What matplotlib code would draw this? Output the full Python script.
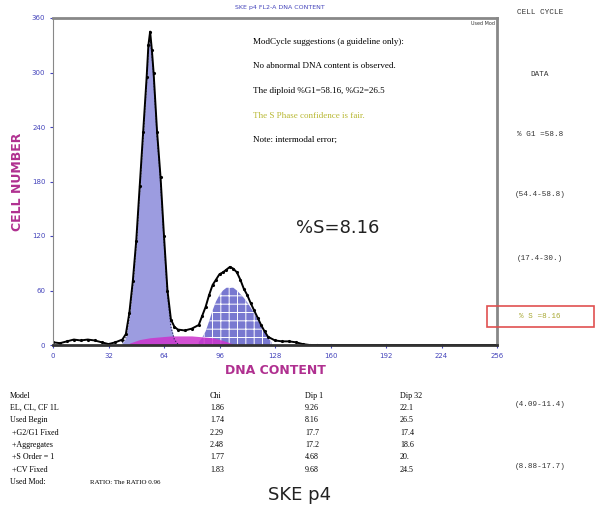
import matplotlib
matplotlib.use("Agg")
import matplotlib.pyplot as plt
import numpy as np

plt.rcParams["hatch.linewidth"] = 0.7

# DNA histogram (data)
channel = [0, 4, 8, 12, 16, 20, 24, 28, 32, 36, 40, 42, 44, 46, 48, 50, 52, 54, 55, 56, 57, 58,
           60, 62, 64, 66, 68, 70, 72, 76, 80, 84, 86, 88, 90, 92, 94, 96, 98, 100, 102, 104,
           106, 108, 110, 112, 114, 116, 118, 120, 122, 124, 128, 132, 136, 140, 144, 148,
           152, 160, 192, 224, 256]
count = [3, 2, 4, 6, 5, 6, 5, 3, 1, 3, 6, 12, 35, 70, 115, 175, 235, 295, 330, 345, 325, 300,
         235, 185, 120, 60, 28, 20, 17, 16, 18, 22, 32, 42, 55, 66, 72, 78, 80, 83, 86, 84,
         80, 72, 62, 55, 46, 38, 30, 22, 15, 9, 5, 4, 4, 3, 1, 0,
         0, 0, 0, 0, 0]

# fitted components
g1_ch = [40, 42, 44, 46, 48, 50, 52, 54, 55, 56, 57, 58, 60, 62, 64, 66, 68, 70, 72]
g1_fit = [2, 8, 30, 65, 110, 170, 230, 290, 325, 340, 320, 295, 230, 180, 115, 55, 20, 6, 1]

s_ch = [44, 50, 56, 62, 68, 74, 80, 86, 92, 98, 104]
s_fit = [2, 6, 8, 9, 10, 10, 10, 9, 8, 5, 1]

g2_ch = [84, 86, 88, 90, 92, 94, 96, 98, 100, 102, 104, 106, 108, 110, 112, 114, 116, 118,
         120, 122, 124, 126]
g2_fit = [3, 8, 15, 26, 38, 48, 55, 60, 63, 64, 63, 60, 56, 52, 47, 41, 35, 28, 21, 14, 8, 3]

x_ticks = [0, 32, 64, 96, 128, 160, 192, 224, 256]
y_ticks = [0, 60, 120, 180, 240, 300, 360]

notes = ["ModCycle suggestions (a guideline only):",
         "No abnormal DNA content is observed.",
         "The diploid %G1=58.16, %G2=26.5",
         "The S Phase confidence is fair.",
         "Note: intermodal error;"]
note_colors = ["black", "black", "black", "#b8b832", "black"]

side_labels = ["CELL CYCLE", "DATA", "% G1 =58.8", "(54.4-58.8)", "(17.4-30.)",
               "% S =8.16", "(4.09-11.4)", "(8.88-17.7)"]
side_y = [12, 75, 135, 195, 258, 317, 405, 467]

table_header = ["Model", "Chi", "Dip 1", "Dip 32"]
model_names = ["EL, CL, CF 1L", "Used Begin", " +G2/G1 Fixed", " +Aggregates",
               " +S Order = 1", " +CV Fixed"]
chi_vals = ["1.86", "1.74", "2.29", "2.48", "1.77", "1.83"]
dip1_vals = ["9.26", "8.16", "17.7", "17.2", "4.68", "9.68"]
dip32_vals = ["22.1", "26.5", "17.4", "18.6", "20.", "24.5"]

W, H = 595, 516
fig = plt.figure(figsize=(W / 100, H / 100), dpi=100)
ax = fig.add_axes([53 / W, 1 - 345 / H, 444 / W, 327 / H])

# components first, data line on top
ax.fill_between(g1_ch, g1_fit, color="#9c9ce0", linewidth=0)
ax.plot(g1_ch, g1_fit, color="#202050", lw=0.8, ls=":")
ax.fill_between(g2_ch, g2_fit, facecolor="#7878d0", edgecolor="white", hatch="++",
                linewidth=0)
ax.fill_between(s_ch, s_fit, color="#cc33cc", alpha=0.85, linewidth=0)
ax.plot(channel, count, color="black", lw=1.4, marker=".", ms=2.5)

ax.set_xlim(0, 256)
ax.set_ylim(0, 360)
ax.set_xticks(x_ticks)
ax.set_yticks(y_ticks)
ax.tick_params(labelsize=5, colors="#4444bb", length=2)
for s in ["top", "right", "left"]:
    ax.spines[s].set_color("#888888")
ax.spines["top"].set_linewidth(2)
ax.spines["right"].set_linewidth(2)
ax.spines["bottom"].set_linewidth(2)
ax.spines["bottom"].set_color("#333333")

ax.set_ylabel("CELL NUMBER", color="#b03090", fontsize=9, fontweight="bold", labelpad=6)
ax.set_xlabel("DNA CONTENT", color="#b03090", fontsize=9, fontweight="bold", labelpad=4)

fig.text(280 / W, 1 - 8 / H, "SKE p4 FL2-A DNA CONTENT", color="#4444bb", fontsize=4.5,
         ha="center", va="center")
ax.text(0.995, 0.99, "Used Mod", transform=ax.transAxes, fontsize=3.5, ha="right",
        va="top", color="#333333")

for i, (t, c) in enumerate(zip(notes, note_colors)):
    fig.text(253 / W, 1 - (42 + i * 24.5) / H, t, color=c, fontsize=6.5,
             family="Liberation Serif", va="center")

fig.text(338 / W, 1 - 228 / H, "%S=8.16", fontsize=13, ha="center", va="center",
         color="#222222")

for t, y in zip(side_labels, side_y):
    col = "#a8a832" if t.startswith("% S") else "#333333"
    fig.text(540 / W, 1 - y / H, t, fontsize=5.5, ha="center", va="center", color=col,
             family="Liberation Mono")
box = plt.Rectangle((487 / W, 1 - 327 / H), 107 / W, 21 / H, transform=fig.transFigure,
                    fill=False, edgecolor="#e05050", lw=1.2)
fig.add_artist(box)

# model table
col_x = [10, 210, 305, 400]
for cx, t in zip(col_x, table_header):
    fig.text(cx / W, 1 - 396 / H, t, fontsize=5.8, family="Liberation Serif", va="center")
for i in range(len(model_names)):
    y = 1 - (408 + i * 12.3) / H
    for cx, t in zip(col_x, [model_names[i], chi_vals[i], dip1_vals[i], dip32_vals[i]]):
        fig.text(cx / W, y, t, fontsize=5.8, family="Liberation Serif", va="center")
fig.text(10 / W, 1 - 482 / H, "Used Mod:", fontsize=5.8, family="Liberation Serif",
         va="center")
fig.text(90 / W, 1 - 482 / H, "RATIO: The RATIO 0.96", fontsize=5, family="Liberation Serif",
         va="center")

fig.text(300 / W, 1 - 495 / H, "SKE p4", fontsize=13, ha="center", va="center",
         color="#222222")

fig.savefig("out.png", dpi=100)
